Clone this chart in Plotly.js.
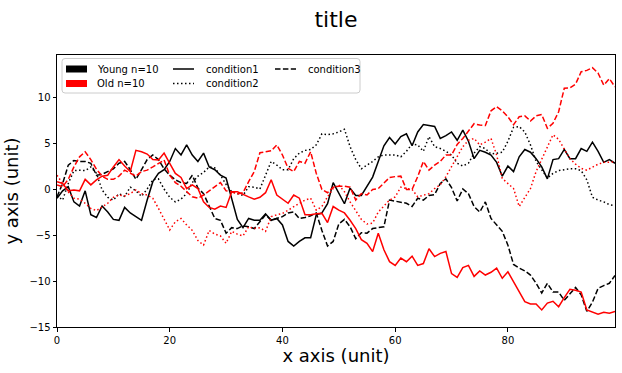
<!DOCTYPE html>
<html>
<head>
<meta charset="utf-8">
<script src="https://cdn.plot.ly/plotly-3.0.1.min.js"></script>
<style>html,body{margin:0;padding:0;background:#fff;}#chart{width:622px;height:373px;}</style>
</head>
<body>
<div id="chart"></div>
<script>
// x positions 0..99
const xValues = Array.from({length: 100}, (_, i) => i);

// Young n=10
const youngCondition1 = [-1.0,-0.2,0.25,-1.4,-1.85,-0.2,-2.8,-3.1,-1.85,-2.5,-3.3,-3.4,-2.0,-2.6,-3.0,-3.4,-1.2,0.8,1.7,2.1,
  3.0,4.4,3.7,4.8,3.7,3.0,3.9,2.4,2.1,1.5,1.2,-1.2,-3.3,-4.2,-3.2,-3.4,-3.4,-2.7,-3.4,-3.2,
  -3.9,-5.7,-6.2,-5.7,-5.3,-5.3,-2.8,-2.6,-1.6,0.7,-0.5,-1.6,0.1,-0.7,-0.7,0.3,1.3,3.0,4.7,5.6,
  4.9,5.7,6.0,4.7,6.2,7.0,6.9,6.8,5.5,5.8,6.2,5.3,6.4,5.2,3.3,4.2,4.0,3.7,2.9,1.4,
  2.5,1.9,3.5,4.3,4.0,3.3,2.4,1.1,3.2,3.3,4.3,3.3,3.3,4.4,4.1,5.1,4.1,2.9,3.2,2.8];
const youngCondition2 = [-0.7,-1.2,0.6,2.0,2.05,2.0,2.4,1.7,-0.1,-0.9,-1.2,-0.5,-0.8,0.2,-0.2,-0.8,0.0,1.0,1.1,0.0,
  -0.9,-1.4,-1.1,-0.5,0.7,1.4,1.8,2.4,2.3,1.5,0.5,-0.3,-0.5,-0.7,0.25,0.2,0.0,1.5,3.0,2.6,
  2.1,2.1,3.3,3.9,4.2,4.3,4.8,6.0,5.9,6.0,6.2,6.5,4.6,3.2,2.2,2.6,3.0,3.5,3.7,3.7,
  3.7,3.5,4.1,4.9,4.8,4.1,5.7,4.6,4.4,4.1,3.7,2.8,2.5,2.8,3.9,4.6,4.4,3.8,3.9,4.0,
  5.2,6.7,6.8,6.2,4.8,3.0,2.1,1.2,1.7,2.0,2.1,2.2,2.2,2.0,1.0,-0.9,-1.2,-1.4,-1.7,-1.8];
const youngCondition3 = [-0.85,0.6,2.6,3.1,3.0,3.0,2.8,1.5,1.6,1.9,2.2,2.8,3.0,2.1,1.05,2.1,3.2,3.7,3.2,2.2,
  1.5,1.0,0.7,0.6,1.5,0.1,-0.5,-1.85,-3.2,-3.4,-4.8,-4.2,-4.3,-4.0,-4.1,-4.3,-3.55,-2.8,-3.4,-3.2,
  -3.0,-2.6,-2.5,-3.2,-3.1,-2.9,-2.6,-4.5,-6.2,-5.7,-3.8,-3.3,-4.1,-5.4,-4.75,-4.8,-4.3,-4.2,-4.1,-1.2,
  -1.3,-1.4,-1.55,-1.9,-1.0,-1.2,-0.7,-0.6,0.6,1.1,0.15,-1.3,0.0,-0.5,-1.9,-2.5,-1.4,-3.2,-3.9,-4.6,
  -6.1,-8.2,-8.6,-8.9,-9.35,-10.25,-11.3,-10.25,-11.2,-11.2,-12.1,-11.45,-10.7,-11.5,-13.3,-12.3,-10.8,-10.5,-10.25,-9.4];

// Old n=10
const oldCondition1 = [0.8,0.6,-0.2,-0.1,-0.2,1.05,0.45,1.0,1.4,1.5,2.4,3.2,2.5,1.9,4.2,4.05,3.8,3.2,3.15,3.9,
  2.8,1.7,1.25,0.05,0.45,0.05,-1.4,-2.0,-2.2,-1.85,-2.0,-0.3,-0.3,-0.6,-0.85,-1.1,-0.9,-0.4,1.0,-0.65,
  -1.1,-1.55,-0.65,-1.0,-2.8,-2.8,-2.7,-2.65,-3.65,-1.9,-2.3,-2.6,-3.4,-4.3,-5.5,-5.9,-6.8,-4.8,-6.6,-7.9,
  -8.3,-7.5,-7.9,-7.3,-8.3,-8.1,-6.5,-7.35,-7.0,-6.8,-9.2,-9.6,-8.55,-8.3,-9.5,-8.9,-9.35,-9.05,-8.6,-9.7,
  -9.0,-10.1,-11.3,-12.25,-12.5,-12.5,-13.15,-12.4,-12.2,-12.8,-11.8,-10.9,-11.0,-11.2,-13.15,-13.4,-13.6,-13.4,-13.5,-13.3];
const oldCondition2 = [1.5,0.6,-0.3,-1.0,-1.1,-1.55,-2.1,-2.35,-1.9,-1.55,-0.9,-0.65,-0.75,-0.5,-0.1,-0.5,-0.65,-1.0,-2.1,-3.2,
  -4.45,-3.55,-3.2,-3.9,-4.5,-5.6,-6.1,-4.5,-4.9,-5.1,-5.9,-4.6,-4.9,-5.1,-4.1,-4.3,-4.2,-4.6,-3.0,-2.8,
  -2.65,-2.3,-1.9,-1.55,-1.2,-1.0,-2.3,-1.9,-0.85,0.05,0.45,-0.3,-1.4,-2.3,-3.3,-3.8,-3.7,-2.5,-1.9,-1.2,
  -0.85,0.2,0.05,-0.05,-0.85,-0.7,-0.5,0.05,0.45,1.35,2.4,3.5,4.6,5.3,5.5,4.8,5.1,5.5,3.7,1.15,
  0.6,0.05,-1.9,-0.95,0.05,1.9,3.3,4.6,5.9,5.4,4.4,3.3,2.7,2.25,2.05,2.4,2.7,2.9,2.95,2.95];
const oldCondition3 = [0.45,0.25,1.05,2.4,3.5,4.05,3.2,2.15,1.4,1.05,1.05,1.4,2.05,1.7,1.4,1.9,2.05,2.4,2.8,3.15,
  1.5,0.7,0.3,-0.3,-0.85,-1.0,-0.65,-0.2,0.25,0.7,-0.2,-0.3,-0.55,-0.4,0.8,1.9,3.95,4.05,4.15,4.8,
  3.7,2.25,1.9,3.0,2.8,4.05,1.7,-0.05,-0.4,0.2,0.3,0.3,0.2,-1.2,-0.5,-0.65,-0.05,0.05,0.6,1.25,
  1.35,1.4,-0.05,-0.05,1.35,3.0,2.05,2.6,3.0,3.7,3.7,4.85,5.5,6.3,7.1,6.95,6.9,8.5,8.95,8.5,
  7.85,7.0,7.85,7.95,7.4,7.95,8.1,6.6,7.15,8.4,10.95,11.0,11.4,12.75,12.9,13.2,12.6,11.3,12.0,11.1];

const groupLabels = ['Young n=10', 'Old n=10'];
const groupColors = ['#000000', '#ff0000'];
const conditionLabels = ['condition1', 'condition2', 'condition3'];
const conditionDashes = ['solid', '1.5px,2.5px', '5.5px,2.4px'];
const xTicks = [0, 20, 40, 60, 80];
const yTicks = [-15, -10, -5, 0, 5, 10];

const seriesByGroup = [
  [youngCondition1, youngCondition2, youngCondition3],
  [oldCondition1, oldCondition2, oldCondition3]
];

const traces = [];
seriesByGroup.forEach((group, g) => {
  group.forEach((ys, c) => {
    traces.push({
      x: xValues, y: ys, type: 'scatter', mode: 'lines',
      name: groupLabels[g] + ' ' + conditionLabels[c],
      line: {color: groupColors[g], width: 1.5, dash: conditionDashes[c]},
      showlegend: false, hoverinfo: 'skip'
    });
  });
});

// plot area in pixels
const L = 57, R = 615, T = 55, B = 327;
const px = x => (x - L) / (R - L);
const py = y => (B - y) / (B - T);
const FONT = 'DejaVu Sans, sans-serif';

// legend frame (rounded rect)
const bx0 = 62, bx1 = 360, by0 = 58.5, by1 = 93, r = 3;
const rx = r / (R - L), ry = r / (B - T);
const lx0 = px(bx0), lx1 = px(bx1), ly0 = py(by1), ly1 = py(by0);
const framePath = `M ${lx0 + rx},${ly0} L ${lx1 - rx},${ly0} Q ${lx1},${ly0} ${lx1},${ly0 + ry} L ${lx1},${ly1 - ry} Q ${lx1},${ly1} ${lx1 - rx},${ly1} L ${lx0 + rx},${ly1} Q ${lx0},${ly1} ${lx0},${ly1 - ry} L ${lx0},${ly0 + ry} Q ${lx0},${ly0} ${lx0 + rx},${ly0} Z`;

const shapes = [
  {type: 'path', xref: 'paper', yref: 'paper', path: framePath,
   line: {color: '#cccccc', width: 1}, fillcolor: 'rgba(255,255,255,0.8)', layer: 'above'}
];
const annotations = [];
const rowY = [69, 83.5];
// group patches (column 1)
groupLabels.forEach((lab, g) => {
  shapes.push({type: 'rect', xref: 'paper', yref: 'paper',
    x0: px(66), x1: px(87), y0: py(rowY[g] + 3.5), y1: py(rowY[g] - 3.5),
    fillcolor: groupColors[g], line: {width: 0}, layer: 'above'});
  annotations.push({xref: 'paper', yref: 'paper', x: px(94.5), y: py(rowY[g]), xanchor: 'left', yanchor: 'middle',
    text: lab, showarrow: false, font: {family: FONT, size: 10, color: '#000'}});
});
// condition line samples (columns 2,3)
const condPos = [[173, rowY[0]], [173, rowY[1]], [275, rowY[0]]];
conditionLabels.forEach((lab, c) => {
  const [x0, y0] = condPos[c];
  shapes.push({type: 'line', xref: 'paper', yref: 'paper',
    x0: px(x0), x1: px(x0 + 21), y0: py(y0), y1: py(y0),
    line: {color: '#000', width: 1.5, dash: conditionDashes[c]}, layer: 'above'});
  annotations.push({xref: 'paper', yref: 'paper', x: px(x0 + 30.5), y: py(y0), xanchor: 'left', yanchor: 'middle',
    text: lab, showarrow: false, font: {family: FONT, size: 10, color: '#000'}});
});

const axisCommon = {
  showline: true, linecolor: '#000', linewidth: 1, mirror: true,
  ticks: 'outside', ticklen: 3.5, tickwidth: 1, tickcolor: '#000',
  showgrid: false, zeroline: false,
  tickfont: {family: FONT, size: 10, color: '#000'},
  automargin: false
};

const layout = {
  width: 622, height: 373,
  margin: {l: L, r: 622 - R, t: T, b: 373 - B, pad: 0},
  paper_bgcolor: '#fff', plot_bgcolor: '#fff',
  font: {family: FONT, color: '#000'},
  showlegend: false,
  title: {text: 'title', font: {family: FONT, size: 22, color: '#000'},
          xref: 'paper', x: 0.5, xanchor: 'center', yref: 'container', y: 1 - 19 / 373, yanchor: 'middle'},
  xaxis: Object.assign({}, axisCommon, {
    range: [0, 99], tickvals: xTicks, ticktext: xTicks.map(String),
    title: {text: 'x axis (unit)', font: {family: FONT, size: 18, color: '#000'}, standoff: 4}
  }),
  yaxis: Object.assign({}, axisCommon, {
    range: [-15, 14.57], tickvals: yTicks,
    title: {text: 'y axis (unit)', font: {family: FONT, size: 18, color: '#000'}, standoff: 6}
  }),
  shapes: shapes,
  annotations: annotations
};

Plotly.newPlot('chart', traces, layout, {displayModeBar: false, staticPlot: true});
</script>
</body>
</html>
